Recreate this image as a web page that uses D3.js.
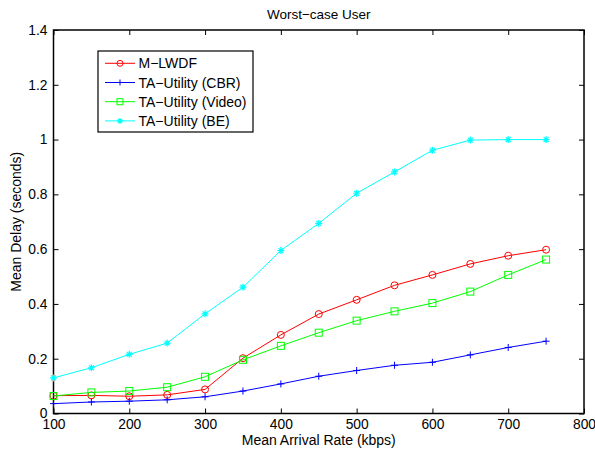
<!DOCTYPE html>
<html>
<head>
<meta charset="utf-8">
<script src="https://cdn.jsdelivr.net/npm/d3@7/dist/d3.min.js"></script>
<style>
  html, body { margin: 0; padding: 0; background: #fff; }
  svg { display: block; }
  text { font-family: "Liberation Sans", Arial, Helvetica, sans-serif; fill: #000; }
</style>
</head>
<body>
<svg id="chart" width="595" height="451"></svg>
<script>
const title = "Worst\u2212case User";
const xLabel = "Mean Arrival Rate (kbps)";
const yLabel = "Mean Delay (seconds)";
const rates = [100, 150, 200, 250, 300, 350, 400, 450, 500, 550, 600, 650, 700, 750];
const mlwdf = [0.065, 0.066, 0.063, 0.068, 0.088, 0.202, 0.287, 0.363, 0.415, 0.468, 0.506, 0.546, 0.576, 0.598];
const taCBR = [0.036, 0.042, 0.045, 0.050, 0.061, 0.082, 0.108, 0.136, 0.157, 0.176, 0.187, 0.214, 0.241, 0.264];
const taVideo = [0.064, 0.077, 0.082, 0.096, 0.134, 0.196, 0.247, 0.295, 0.339, 0.373, 0.403, 0.445, 0.506, 0.562];
const taBE = [0.130, 0.167, 0.216, 0.257, 0.364, 0.461, 0.595, 0.694, 0.804, 0.882, 0.961, 0.998, 1.0, 1.0];
const xTicks = [100, 200, 300, 400, 500, 600, 700, 800];
const yTicks = [0, 0.2, 0.4, 0.6, 0.8, 1, 1.2, 1.4];
const seriesNames = ["M\u2212LWDF", "TA\u2212Utility (CBR)", "TA\u2212Utility (Video)", "TA\u2212Utility (BE)"];
const seriesColors = ["#ff0000", "#0000ff", "#00ff00", "#00ffff"];
const seriesMarkers = ["circle", "plus", "square", "star"];

const series = [mlwdf, taCBR, taVideo, taBE].map((vals, i) => ({
  name: seriesNames[i], color: seriesColors[i], marker: seriesMarkers[i],
  points: vals.map((v, j) => ({x: rates[j], y: v}))
}));

const L = 53.5, R = 584, T = 30, B = 413.5;
const svg = d3.select("#chart");
const x = d3.scaleLinear().domain([100, 800]).range([L, R]);
const y = d3.scaleLinear().domain([0, 1.4]).range([B, T]);

const tickLen = 5;
const fmtY = d => d === 0 ? "0" : (d === 1 ? "1" : d3.format(".1f")(d));
const xAxisB = d3.axisBottom(x).tickValues(xTicks).tickSize(-tickLen).tickPadding(5.5).tickFormat(d3.format("d"));
const xAxisT = d3.axisTop(x).tickValues(xTicks).tickSize(-tickLen).tickFormat("");
const yAxisL = d3.axisLeft(y).tickValues(yTicks).tickSize(-tickLen).tickPadding(6).tickFormat(fmtY);
const yAxisR = d3.axisRight(y).tickValues(yTicks).tickSize(-tickLen).tickFormat("");

function styleAxis(g) {
  g.select(".domain").remove();
  g.selectAll(".tick line").attr("stroke", "#000").attr("stroke-width", 1);
  g.selectAll(".tick text").attr("font-size", 13.8).attr("font-family", "Liberation Sans, Arial, sans-serif").attr("fill", "#000");
}
svg.append("g").attr("transform", `translate(0,${B})`).call(xAxisB).call(styleAxis)
  .selectAll(".tick text").attr("dy", "0.71em");
svg.append("g").attr("transform", `translate(0,${T})`).call(xAxisT).call(styleAxis);
svg.append("g").attr("transform", `translate(${L},0)`).call(yAxisL).call(styleAxis);
svg.append("g").attr("transform", `translate(${R},0)`).call(yAxisR).call(styleAxis);

svg.append("rect").attr("x", L).attr("y", T).attr("width", R - L).attr("height", B - T)
  .attr("fill", "none").attr("stroke", "#000").attr("stroke-width", 1.5);

const line = d3.line().x(d => x(d.x)).y(d => y(d.y));
function drawMarker(g, type, cx, cy, color, r) {
  if (type === "circle") {
    g.append("circle").attr("cx", cx).attr("cy", cy).attr("r", r)
      .attr("fill", "none").attr("stroke", color).attr("stroke-width", 1);
  } else if (type === "square") {
    g.append("rect").attr("x", cx - r).attr("y", cy - r).attr("width", 2 * r).attr("height", 2 * r)
      .attr("fill", "none").attr("stroke", color).attr("stroke-width", 1);
  } else if (type === "plus") {
    g.append("path").attr("d", `M${cx-r},${cy}H${cx+r}M${cx},${cy-r}V${cy+r}`)
      .attr("stroke", color).attr("stroke-width", 1);
  } else if (type === "star") {
    const d = r * 0.7;
    g.append("path").attr("d", `M${cx-r},${cy}H${cx+r}M${cx},${cy-r}V${cy+r}M${cx-d},${cy-d}L${cx+d},${cy+d}M${cx-d},${cy+d}L${cx+d},${cy-d}`)
      .attr("stroke", color).attr("stroke-width", 1.2);
  }
}
const plotG = svg.append("g");
series.forEach(s => {
  plotG.append("path").datum(s.points).attr("d", line)
    .attr("fill", "none").attr("stroke", s.color).attr("stroke-width", 1);
  const mg = plotG.append("g");
  s.points.forEach(p => drawMarker(mg, s.marker, x(p.x), y(p.y), s.color, 3.5));
});

svg.append("text").attr("x", (L + R) / 2).attr("y", 18.5).attr("text-anchor", "middle")
  .attr("font-size", 13.5).text(title);
svg.append("text").attr("x", (L + R) / 2).attr("y", 444.5).attr("text-anchor", "middle")
  .attr("font-size", 14).text(xLabel);
svg.append("text").attr("transform", `translate(21,${(T + B) / 2}) rotate(-90)`).attr("text-anchor", "middle")
  .attr("font-size", 14).text(yLabel);

const lg = svg.append("g");
lg.append("rect").attr("x", 98).attr("y", 51).attr("width", 155).attr("height", 81)
  .attr("fill", "#fff").attr("stroke", "#000").attr("stroke-width", 1.2);
series.forEach((s, i) => {
  const yy = 63.3 + i * 19.2;
  lg.append("line").attr("x1", 105).attr("x2", 135).attr("y1", yy).attr("y2", yy)
    .attr("stroke", s.color).attr("stroke-width", 1);
  drawMarker(lg, s.marker, 120, yy, s.color, 3);
  lg.append("text").attr("x", 138.5).attr("y", yy).attr("dy", "0.36em").attr("font-size", 14).text(s.name);
});
</script>
</body>
</html>
